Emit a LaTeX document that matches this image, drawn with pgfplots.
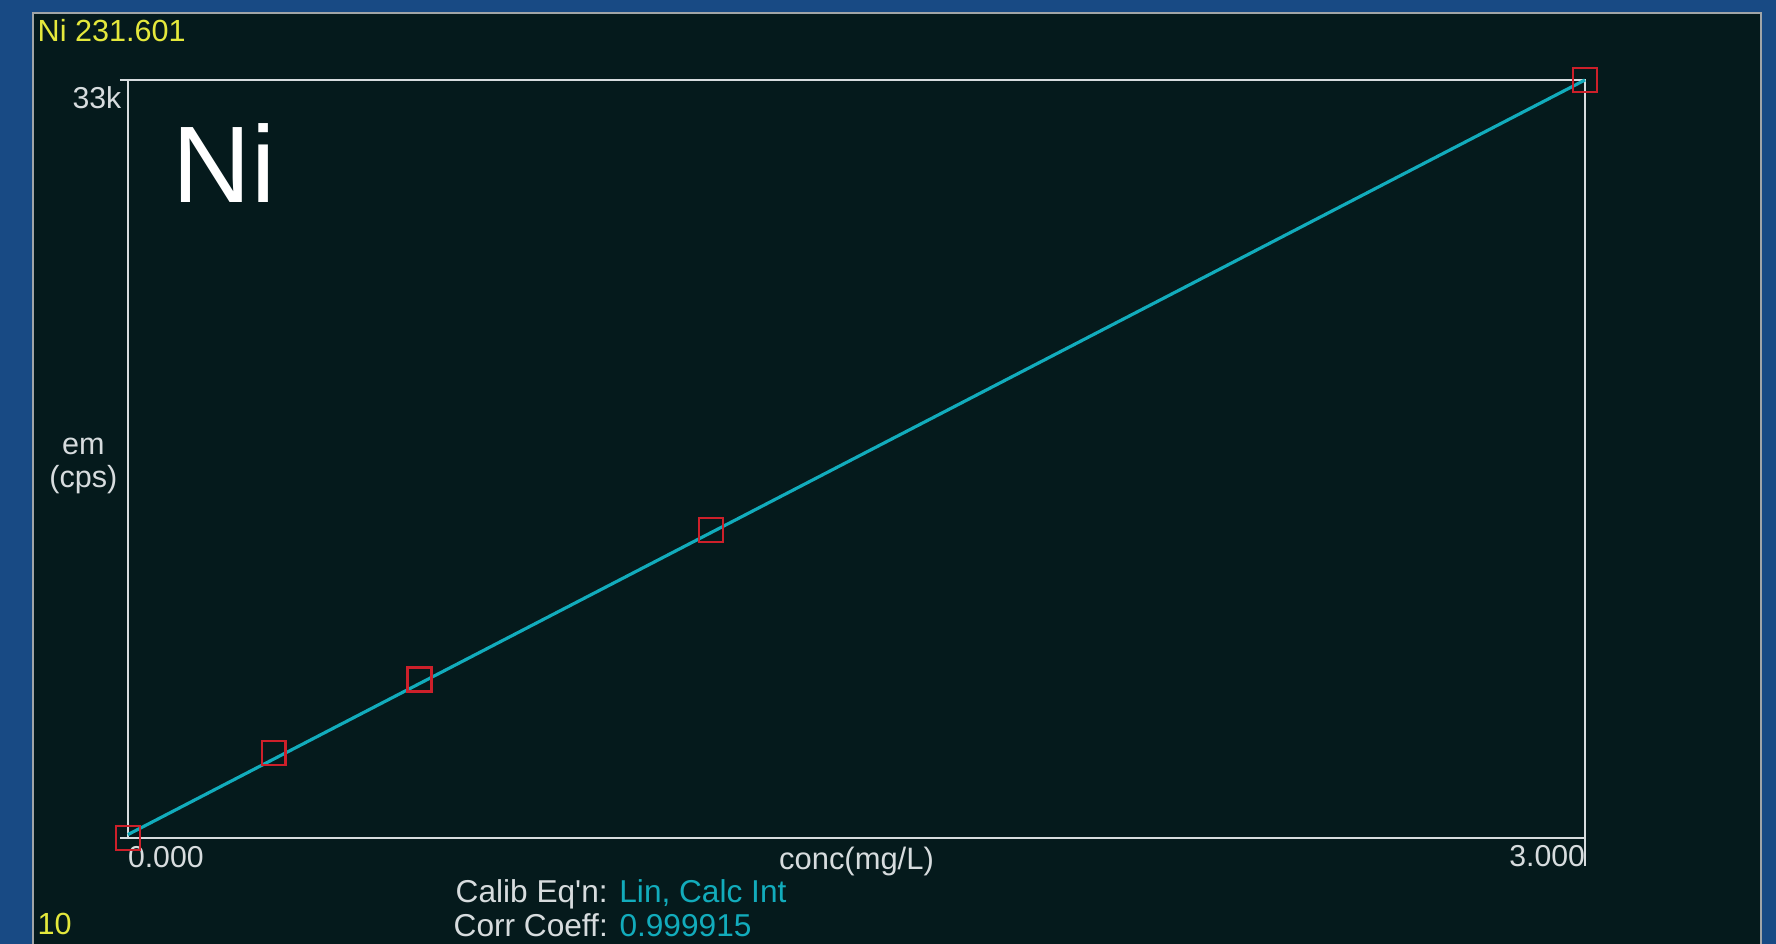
\documentclass[border=0pt]{standalone}
\usepackage{pgfplots}
\pgfplotsset{compat=1.18}
\usepackage{fontspec}
\setmainfont{Liberation Sans}
\definecolor{bgblue}{RGB}{24,74,132}
\definecolor{panel}{RGB}{5,26,28}
\definecolor{frame}{RGB}{215,220,222}
\definecolor{calcyan}{RGB}{18,172,188}
\definecolor{ptred}{RGB}{205,32,42}
\definecolor{hdyellow}{RGB}{228,232,60}
\begin{document}
\begin{tikzpicture}[x=0.1mm,y=0.1mm]
\useasboundingbox (0,0) rectangle (1776,944);
\fill[bgblue] (0,0) rectangle (1776,944);
\fill[panel] (33,0) rectangle (1761,931);
\draw[frame!75!black, line width=0.6pt] (33,-5) -- (33,931) -- (1761,931) -- (1761,-5);

\begin{axis}[
  at={(12.8mm,10.6mm)}, anchor=south west,
  width=145.7mm, height=75.8mm, scale only axis,
  xmin=0, xmax=3, ymin=0, ymax=33000,
  clip=false,
  axis line style={frame, line width=0.6pt},
  tick align=outside,
  xtick pos=lower, ytick pos=left,
  major tick style={frame, line width=0.6pt},
  xtick={3},
  xticklabels={\makebox[0pt][r]{3.000}},
  extra x ticks={0},
  extra x tick labels={\makebox[0pt][l]{0.000}},
  extra x tick style={major tick length=0pt, major tick style={draw=none},
    xticklabel style={yshift=-1.55mm}},
  ytick={0,33000}, yticklabels={,33k},
  scaled y ticks=false,
  xtick style={/pgfplots/major tick length=2.8mm},
  ytick style={/pgfplots/major tick length=0.8mm},
  /pgf/number format/assume math mode=true,
  ticklabel style={text=frame, font=\fontsize{8.6}{10}\selectfont},
  xticklabel style={anchor=north, inner sep=0pt, yshift=0.8mm},
  yticklabel style={anchor=east, inner sep=0pt, yshift=-1.8mm, xshift=0.9mm},
  xlabel={conc(mg/L)},
  xlabel style={at={(rel axis cs:0.5,0)}, anchor=north, inner sep=0pt,
    yshift=-0.8mm, text=frame, font=\fontsize{8.8}{10}\selectfont},
  ylabel={em\\(cps)},
  ylabel style={rotate=-90, at={(rel axis cs:0,0.5)}, anchor=east, align=center,
    inner sep=0pt, xshift=-1mm, yshift=-0.7mm, text=frame,
    font=\fontsize{8.7}{9.6}\selectfont},
]
\addplot[calcyan, line width=0.9pt] coordinates {(0,150) (3,33000)};
\addplot[only marks, mark=square, mark size=3.4pt, ptred,
  mark options={line width=0.7pt}] coordinates {
  (0,0) (0.3,3700) (0.6,6900) (1.2,13400) (3,33000)
};
\end{axis}

\node[anchor=base west, inner sep=0pt, text=hdyellow, font=\fontsize{8.7}{10}\selectfont]
  at (37,902) {Ni 231.601};
\node[anchor=base west, inner sep=0pt, text=hdyellow, font=\fontsize{8.7}{10}\selectfont]
  at (37,9) {10};
\node[anchor=base west, inner sep=0pt, text=white, font=\fontsize{31}{36}\selectfont]
  at (172,741) {Ni};
\node[anchor=base west, inner sep=0pt, text=frame, font=\fontsize{9}{11}\selectfont]
  at (455,41) {Calib Eq\textquotesingle n: \textcolor{calcyan}{Lin, Calc Int}};
\node[anchor=base west, inner sep=0pt, text=frame, font=\fontsize{9}{11}\selectfont]
  at (453,7) {Corr Coeff: \textcolor{calcyan}{0.999915}};
\end{tikzpicture}
\end{document}
